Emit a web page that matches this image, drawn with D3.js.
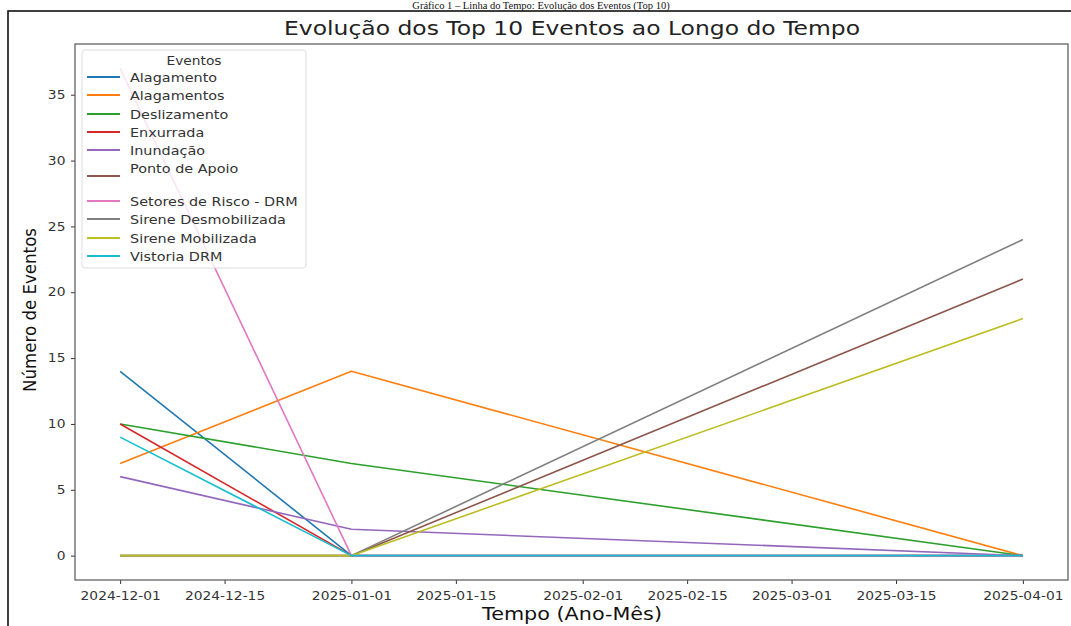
<!DOCTYPE html>
<html><head><meta charset="utf-8">
<script src="https://cdn.jsdelivr.net/npm/d3@7"></script>
<style>body{margin:0;background:#fff}svg{display:block}</style>
</head><body>
<svg id="c" width="1071" height="626"></svg>
<script>
const dates = ["2024-12-01","2025-01-01","2025-04-01"];
const seriesNames = ["Alagamento","Alagamentos","Deslizamento","Enxurrada","Inundação","Ponto de Apoio","Setores de Risco - DRM","Sirene Desmobilizada","Sirene Mobilizada","Vistoria DRM"];
const alagamento = [14,0,0];
const alagamentos = [7,14,0];
const deslizamento = [10,7,0];
const enxurrada = [10,0,0];
const inundacao = [6,2,0];
const pontoApoio = [0,0,21];
const setoresRisco = [37,0,0];
const sireneDesm = [0,0,24];
const sireneMob = [0,0,18];
const vistoria = [9,0,0];
const seriesValues = [alagamento,alagamentos,deslizamento,enxurrada,inundacao,pontoApoio,setoresRisco,sireneDesm,sireneMob,vistoria];
const xTicks = ["2024-12-01","2024-12-15","2025-01-01","2025-01-15","2025-02-01","2025-02-15","2025-03-01","2025-03-15","2025-04-01"];
const yTicks = [0,5,10,15,20,25,30,35];
const colors = ["#1f77b4","#ff7f0e","#2ca02c","#d62728","#9467bd","#8c564b","#e377c2","#7f7f7f","#bcbd22","#17becf"];

const svg = d3.select("#c");
const parse = d3.utcParse("%Y-%m-%d");
const fmt = d3.utcFormat("%Y-%m-%d");
const L=75, R=1068, T=44, B=580;
const d0 = parse(dates[0]), d1 = parse(dates[dates.length-1]);
const span = d1 - d0;
const x = d3.scaleUtc().domain([new Date(+d0 - span*0.05), new Date(+d1 + span*0.05)]).range([L,R]);
const y = d3.scaleLinear().domain([-37*0.05, 37*1.05]).range([B,T]);

// caption above the figure frame
svg.append("text").attr("x",541).attr("y",9).attr("text-anchor","middle")
  .attr("font-family","Liberation Serif, Times New Roman, serif").attr("font-size",10.5).attr("fill","#111")
  .text("Gráfico 1 – Linha do Tempo: Evolução dos Eventos (Top 10)");
// outer frame
svg.append("rect").attr("x",8).attr("y",11).attr("width",1080).attr("height",640)
  .attr("fill","none").attr("stroke","#111").attr("stroke-width",1.6);

// title
svg.append("text").attr("x",572).attr("y",35).attr("text-anchor","middle")
  .attr("font-family","DejaVu Sans").attr("font-size",19).attr("fill","#222")
  .attr("textLength",576).attr("lengthAdjust","spacingAndGlyphs")
  .text("Evolução dos Top 10 Eventos ao Longo do Tempo");

// lines
const line = d3.line().x((d,i)=>x(parse(dates[i]))).y(d=>y(d));
const g = svg.append("g");
seriesValues.forEach((vals,k)=>{
  g.append("path").datum(vals).attr("d",line).attr("fill","none")
   .attr("stroke",colors[k]).attr("stroke-width",1.6).attr("stroke-linejoin","round");
});

// axes
const xa = svg.append("g").attr("transform",`translate(0,${B})`)
  .call(d3.axisBottom(x).tickValues(xTicks.map(parse)).tickFormat(fmt).tickSize(4).tickPadding(8).tickSizeOuter(0));
const ya = svg.append("g").attr("transform",`translate(${L},0)`)
  .call(d3.axisLeft(y).tickValues(yTicks).tickSize(4).tickPadding(4).tickSizeOuter(0));
[xa,ya].forEach(a=>{
  a.select(".domain").remove();
  a.selectAll("text").attr("font-family","DejaVu Sans").attr("font-size",11.5).attr("fill","#333")
   .attr("transform","scale(1.2,1)");
  a.selectAll("line").attr("stroke","#333");
});
// spines
svg.append("rect").attr("x",L).attr("y",T).attr("width",R-L).attr("height",B-T)
  .attr("fill","none").attr("stroke","#555").attr("stroke-width",1.2);

// axis labels
svg.append("text").attr("x",572).attr("y",620).attr("text-anchor","middle")
  .attr("font-family","DejaVu Sans").attr("font-size",18).attr("fill","#111")
  .attr("textLength",180).attr("lengthAdjust","spacingAndGlyphs")
  .text("Tempo (Ano-Mês)");
svg.append("text").attr("transform","translate(36,310) rotate(-90)").attr("text-anchor","middle")
  .attr("font-family","DejaVu Sans").attr("font-size",17).attr("fill","#111")
  .attr("textLength",164).attr("lengthAdjust","spacingAndGlyphs")
  .text("Número de Eventos");

// legend
const lg = svg.append("g");
lg.append("rect").attr("x",82).attr("y",50).attr("width",224).attr("height",218).attr("rx",3)
  .attr("fill","#fff").attr("fill-opacity",0.8).attr("stroke","#ddd");
lg.append("g").attr("transform","translate(194,65) scale(1.2,1)").append("text").attr("text-anchor","middle")
  .attr("font-family","DejaVu Sans").attr("font-size",11.5).attr("fill","#333").text("Eventos");
const lineYs = [77,95,114,132,150,176,201,219,238,256];
const textYs = [77,95,114,132,150,168,201,219,238,256];
seriesNames.forEach((n,k)=>{
  lg.append("line").attr("x1",87).attr("x2",120).attr("y1",lineYs[k]).attr("y2",lineYs[k])
    .attr("stroke",colors[k]).attr("stroke-width",1.8);
  lg.append("g").attr("transform",`translate(130,${textYs[k]+4.5}) scale(1.2,1)`).append("text")
    .attr("font-family","DejaVu Sans").attr("font-size",12).attr("fill","#333").text(n);
});
</script>
</body></html>
